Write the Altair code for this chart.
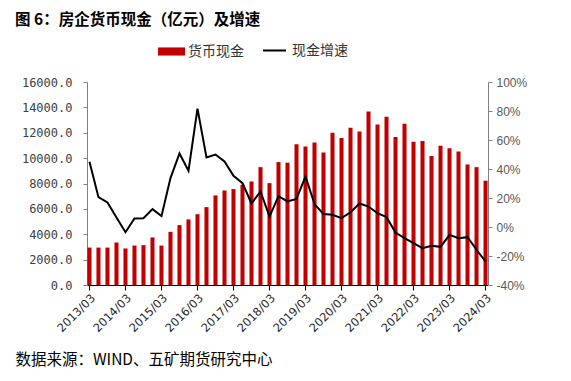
import altair as alt
import pandas as pd

# Quarterly categories 2013/03 .. 2024/03
quarters = [f"{y}/{m:02d}" for y in range(2013, 2025) for m in (3, 6, 9, 12)][:45]
year_ticks = [q for q in quarters if q.endswith("/03")]

cash = [2950, 2950, 2950, 3350, 2880, 3110, 3140, 3750, 3110, 4190,
        4720, 5170, 5580, 6140, 7060, 7450, 7560, 7900, 8160, 9290,
        8030, 9690, 9640, 11100, 10920, 11240, 10450, 12000, 11580, 12400,
        12100, 13680, 12660, 13260, 11660, 12710, 11290, 11340, 10160, 10980,
        10770, 10530, 9500, 9290, 8220]

growth = [45.0, 20.6, 16.9, 6.5, -3.6, 5.9, 6.1, 12.3, 7.5, 33.7,
          50.7, 38.8, 81.6, 48.0, 50.0, 45.2, 35.3, 30.2, 16.2, 24.5,
          7.2, 21.3, 17.6, 19.4, 34.9, 15.8, 8.9, 8.4, 6.1, 10.2,
          16.2, 14.1, 9.5, 6.8, -3.8, -7.7, -11.2, -14.6, -13.0, -13.7,
          -5.4, -7.7, -7.0, -15.7, -23.8]

left_ticks = list(range(0, 16001, 2000))
right_ticks = list(range(-40, 101, 20))

df = pd.DataFrame({"quarter": quarters, "cash": cash, "growth": growth,
                   "s1": "货币现金", "s2": "现金增速"})

FONT = "Noto Sans CJK SC"
NUMFONT = "Liberation Sans"
MONO = "DejaVu Sans Mono"

x_enc = alt.X(
    "quarter:N", sort=quarters,
    scale=alt.Scale(paddingInner=0.55, paddingOuter=0.05),
    axis=alt.Axis(
        values=year_ticks, labelAngle=-45, labelFont="DejaVu Sans", labelFontSize=11.5,
        labelColor="#262626", domainColor="#000000", tickColor="#000000",
        tickSize=5, labelPadding=2,
        title="数据来源：WIND、五矿期货研究中心", titleFont=FONT, titleFontSize=15.5,
        titleFontWeight="normal", titleColor="#000000", titleAnchor="start",
        titleAlign="left", titleBaseline="middle", titleX=-72, titleY=74,
    ),
)

bars = alt.Chart(df).mark_bar(color="#c00000").encode(
    x=x_enc,
    y=alt.Y("cash:Q", scale=alt.Scale(domain=[0, 16000], nice=False),
            axis=alt.Axis(values=left_ticks, format=".1f", title=None, grid=False,
                          orient="left", labelFont=MONO, labelFontSize=12,
                          labelColor="#404040", domainColor="#808080",
                          tickColor="#808080", tickSize=4, labelPadding=11)),
    fill=alt.Fill("s1:N", scale=alt.Scale(domain=["货币现金"], range=["#c00000"]),
                  legend=alt.Legend(orient="none", legendX=71, legendY=-44, title=None,
                                    direction="horizontal", padding=0,
                                    symbolType="M-1,-0.3L1,-0.3L1,0.3L-1,0.3Z",
                                    symbolSize=729, symbolStrokeWidth=0,
                                    labelFont=FONT, labelFontSize=14,
                                    labelColor="#333333", labelOffset=3)),
)

line = alt.Chart(df).mark_line(strokeWidth=2).encode(
    x=x_enc,
    y=alt.Y("growth:Q", scale=alt.Scale(domain=[-40, 100], nice=False),
            axis=alt.Axis(values=right_ticks, labelExpr="datum.value + '%'",
                          title=None, grid=False, orient="right",
                          labelFont=NUMFONT, labelFontSize=12,
                          labelColor="#595959", domainColor="#808080",
                          tickColor="#808080", tickSize=4, labelPadding=4)),
    stroke=alt.Stroke("s2:N", scale=alt.Scale(domain=["现金增速"], range=["#000000"]),
                      legend=alt.Legend(orient="none", legendX=175, legendY=-44, title=None,
                                        direction="horizontal", padding=0,
                                        symbolType="stroke", symbolSize=529,
                                        symbolStrokeWidth=2,
                                        labelFont=FONT, labelFontSize=14,
                                        labelColor="#333333", labelOffset=5)),
)

chart = alt.layer(bars, line).resolve_scale(
    y="independent", fill="independent", stroke="independent"
).properties(
    width=401, height=203,
    padding={"left": 7, "top": 4, "right": 5, "bottom": 5},
    title=alt.TitleParams(text="图 6：房企货币现金（亿元）及增速", anchor="start",
                          font=FONT, fontSize=15.5, fontWeight="bold",
                          color="#000000", offset=10, frame="bounds"),
).configure_view(stroke=None)

chart.save("out.html", embed_options={"renderer": "svg", "actions": False})
